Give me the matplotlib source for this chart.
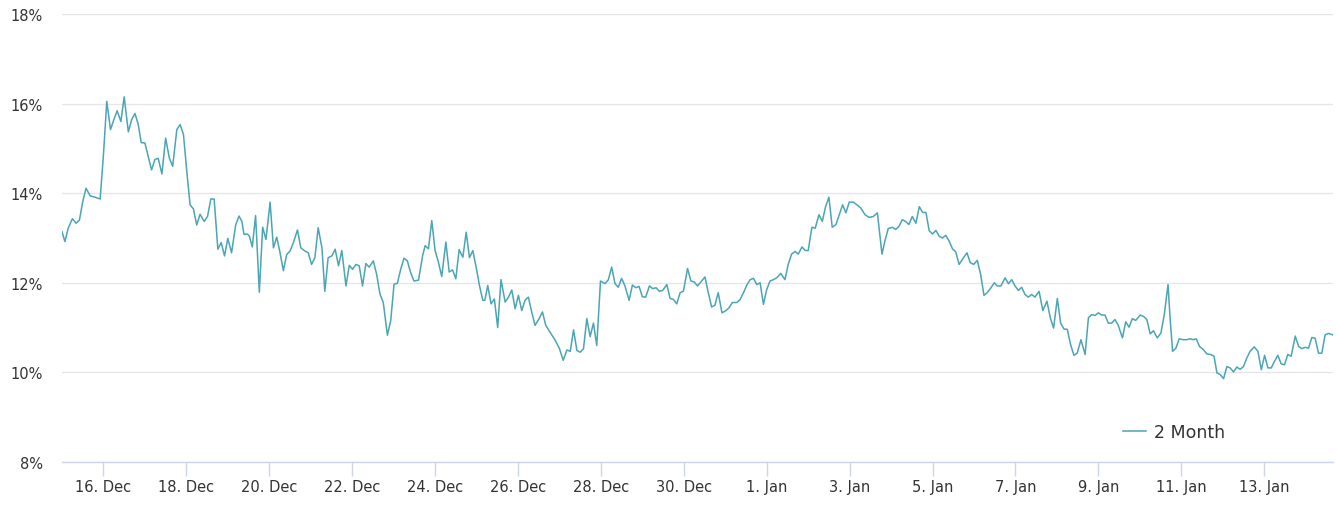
import pandas as pd
import matplotlib
matplotlib.use('Agg')
import matplotlib.pyplot as plt

# Rate series: day offset from 15 Dec 00:00, value in %
days = [
    0.00, 0.07, 0.15, 0.25, 0.34, 0.42, 0.50, 0.58, 0.68, 0.80, 0.92, 1.00, 1.08, 1.17, 1.25, 1.33,
    1.42, 1.50, 1.60, 1.68, 1.76, 1.84, 1.91, 2.00, 2.07, 2.16, 2.24, 2.32, 2.41, 2.50, 2.59, 2.67,
    2.77, 2.85, 2.93, 3.01, 3.09, 3.17, 3.25, 3.33, 3.43, 3.51, 3.59, 3.67, 3.76, 3.84, 3.92, 4.00,
    4.09, 4.19, 4.27, 4.34,
    4.39, 4.47, 4.52, 4.59, 4.67, 4.76, 4.84, 4.92, 5.02, 5.10, 5.18, 5.26, 5.34, 5.42, 5.50, 5.58,
    5.68, 5.76, 5.86, 5.94, 6.02, 6.10, 6.18, 6.27, 6.34, 6.42, 6.51, 6.59, 6.67, 6.75, 6.85, 6.93,
    7.01, 7.09, 7.17, 7.25, 7.33, 7.41, 7.51, 7.59, 7.67, 7.75, 7.85, 7.93, 8.01, 8.09, 8.17, 8.25,
    8.33, 8.41, 8.49, 8.60,
    8.70, 8.76, 8.84, 8.92, 9.00, 9.08, 9.16, 9.26, 9.34, 9.42, 9.50, 9.58, 9.67, 9.75, 9.83, 9.91,
    9.99, 10.07, 10.15, 10.20, 10.27, 10.35, 10.43, 10.51, 10.59, 10.69, 10.77, 10.85, 10.93, 11.01,
    11.09, 11.17, 11.25, 11.33, 11.41, 11.51, 11.59, 11.67, 11.77, 11.89, 12.00, 12.09, 12.18, 12.26,
    12.34, 12.42, 12.50, 12.58, 12.66, 12.74, 12.82, 12.90, 12.99,
    13.10, 13.18, 13.26, 13.34, 13.42, 13.50, 13.58, 13.68, 13.76, 13.84, 13.92, 14.00, 14.08, 14.17,
    14.25, 14.33, 14.41, 14.49, 14.59, 14.67, 14.75, 14.83, 14.91, 14.99, 15.09, 15.17, 15.25, 15.33,
    15.43, 15.51, 15.59, 15.67, 15.75, 15.83, 15.92, 16.00, 16.09, 16.17, 16.28, 16.36, 16.44, 16.52,
    16.60, 16.68, 16.76, 16.84, 16.92, 17.00, 17.08, 17.16, 17.24, 17.34,
    17.44, 17.52, 17.60, 17.68, 17.76, 17.85, 17.93, 18.00, 18.09, 18.17, 18.26, 18.34, 18.42, 18.50,
    18.58, 18.67, 18.75, 18.83, 18.91, 18.99, 19.09, 19.19, 19.27, 19.37, 19.47, 19.57, 19.67, 19.78,
    19.85, 19.93, 20.03, 20.11, 20.19, 20.27, 20.35, 20.43, 20.51, 20.60, 20.68, 20.76, 20.84, 20.92,
    21.00, 21.08, 21.16, 21.24, 21.32, 21.40, 21.48, 21.56, 21.64,
    21.74, 21.83, 21.91, 21.99, 22.08, 22.16, 22.24, 22.32, 22.41, 22.49, 22.56, 22.65, 22.75, 22.83,
    22.91, 22.99, 23.07, 23.15, 23.23, 23.31, 23.39, 23.47, 23.57, 23.66, 23.76, 23.84, 23.92, 24.01,
    24.09, 24.17, 24.25, 24.33, 24.41, 24.49, 24.58, 24.68, 24.76, 24.84, 24.92, 25.00, 25.08, 25.16,
    25.24, 25.32, 25.40, 25.48, 25.58, 25.66, 25.74, 25.82, 25.90, 26.01,
    26.09, 26.17, 26.25, 26.33, 26.42, 26.51, 26.59, 26.68, 26.73, 26.79, 26.87, 26.95, 27.05, 27.13,
    27.21, 27.29, 27.36, 27.44, 27.53, 27.62, 27.71, 27.79, 27.86, 27.94, 28.02, 28.10, 28.18, 28.26,
    28.34, 28.42, 28.50, 28.58, 28.66, 28.76, 28.85, 28.93, 29.01, 29.09, 29.17, 29.25, 29.33, 29.41,
    29.49, 29.57, 29.65, 29.75, 29.83, 29.91, 29.99, 30.07, 30.15, 30.23, 30.31, 30.39, 30.47, 30.55,
    30.65,
]

rate = [
    13.14, 12.92, 13.22, 13.43, 13.33, 13.40, 13.81, 14.11, 13.94, 13.91, 13.87, 14.86, 16.05, 15.42, 15.64, 15.84,
    15.60, 16.15, 15.37, 15.64, 15.78, 15.53, 15.13, 15.12, 14.86, 14.52, 14.75, 14.78, 14.43, 15.23, 14.78, 14.60,
    15.42, 15.53, 15.31, 14.49, 13.74, 13.65, 13.29, 13.53, 13.37, 13.48, 13.87, 13.87, 12.75, 12.90, 12.60, 12.99,
    12.67, 13.29, 13.49, 13.37,
    13.08, 13.09, 13.04, 12.80, 13.50, 11.79, 13.24, 12.97, 13.80, 12.78, 13.02, 12.67, 12.27, 12.63, 12.71, 12.89,
    13.18, 12.78, 12.71, 12.67, 12.41, 12.56, 13.23, 12.78, 11.81, 12.56, 12.60, 12.75, 12.38, 12.72, 11.93, 12.39,
    12.30, 12.41, 12.38, 11.93, 12.43, 12.35, 12.49, 12.19, 11.75, 11.56, 10.83, 11.16, 11.97, 11.99, 12.30, 12.55,
    12.49, 12.23, 12.04, 12.06,
    12.61, 12.83, 12.76, 13.39, 12.72, 12.46, 12.14, 12.91, 12.24, 12.29, 12.09, 12.74, 12.57, 13.13, 12.56, 12.72,
    12.35, 11.94, 11.61, 11.61, 11.94, 11.53, 11.64, 11.00, 12.07, 11.57, 11.68, 11.84, 11.42, 11.72,
    11.38, 11.61, 11.68, 11.35, 11.05, 11.20, 11.35, 11.05, 10.90, 10.73, 10.53, 10.27, 10.50, 10.47,
    10.95, 10.49, 10.45, 10.53, 11.20, 10.80, 11.10, 10.60, 12.04,
    11.98, 12.07, 12.35, 11.98, 11.90, 12.10, 11.93, 11.61, 11.95, 11.89, 11.92, 11.69, 11.68, 11.93,
    11.87, 11.89, 11.81, 11.83, 11.96, 11.65, 11.63, 11.53, 11.78, 11.81, 12.32, 12.04, 12.02, 11.93,
    12.04, 12.13, 11.78, 11.46, 11.50, 11.78, 11.33, 11.37, 11.44, 11.56, 11.56, 11.63, 11.78, 11.95,
    12.07, 12.10, 11.96, 12.00, 11.52, 11.85, 12.04, 12.07, 12.11, 12.21,
    12.07, 12.42, 12.64, 12.70, 12.64, 12.80, 12.72, 12.72, 13.24, 13.22, 13.52, 13.37, 13.70, 13.91,
    13.24, 13.30, 13.52, 13.74, 13.56, 13.80, 13.80, 13.73, 13.67, 13.52, 13.46, 13.48, 13.56, 12.64,
    12.93, 13.21, 13.24, 13.19, 13.26, 13.41, 13.37, 13.30, 13.48, 13.33, 13.70, 13.57, 13.57, 13.16,
    13.09, 13.17, 13.04, 13.00, 13.06, 12.93, 12.76, 12.69, 12.41,
    12.55, 12.67, 12.45, 12.41, 12.50, 12.19, 11.72, 11.78, 11.89, 12.00, 11.93, 11.93, 12.11, 11.98,
    12.07, 11.93, 11.83, 11.90, 11.74, 11.68, 11.74, 11.68, 11.81, 11.38, 11.59, 11.22, 10.99, 11.65,
    11.10, 10.97, 10.96, 10.62, 10.38, 10.43, 10.73, 10.40, 11.22, 11.29, 11.27, 11.33, 11.28, 11.28,
    11.10, 11.10, 11.18, 11.05, 10.77, 11.13, 11.01, 11.20, 11.16, 11.28,
    11.25, 11.18, 10.86, 10.93, 10.77, 10.88, 11.29, 11.96, 11.22, 10.47, 10.54, 10.75, 10.73, 10.73,
    10.75, 10.73, 10.75, 10.58, 10.51, 10.41, 10.40, 10.36, 9.99, 9.95, 9.86, 10.13, 10.10, 10.01,
    10.12, 10.07, 10.13, 10.32, 10.47, 10.57, 10.47, 10.06, 10.38, 10.10, 10.10, 10.25, 10.38, 10.19,
    10.17, 10.40, 10.36, 10.81, 10.58, 10.53, 10.56, 10.54, 10.78, 10.76, 10.43, 10.43, 10.84, 10.87,
    10.84,
]

start = pd.Timestamp('2019-12-15')
end_day = 30.66
y_ticks = [8, 10, 12, 14, 16, 18]
series_name = '2 Month'

times = start + pd.to_timedelta(days, unit='D')
x_ticks = pd.date_range('2019-12-16', '2020-01-13', freq='2D')
x_labels = [f"{t.day}. {t:%b}" for t in x_ticks]

fig = plt.figure(figsize=(13.4, 5.06), dpi=100)
ax = fig.add_axes([62 / 1340, 1 - 463 / 506, 1271 / 1340, 448 / 506])

ax.plot(times, rate, color='#4aa5b5', lw=1.1, label=series_name)

ax.set_xlim(start, start + pd.Timedelta(days=end_day))
ax.set_ylim(8, 18)
ax.set_yticks(y_ticks)
ax.set_yticklabels([f"{v}%" for v in y_ticks])
ax.set_xticks(x_ticks)
ax.set_xticklabels(x_labels)

ax.grid(axis='y', color='#e6e6e6', lw=1)
ax.set_axisbelow(True)
for side in ['top', 'right', 'left']:
    ax.spines[side].set_visible(False)
ax.spines['bottom'].set_color('#ccd6eb')
ax.spines['bottom'].set_linewidth(1)

ax.tick_params(axis='y', length=0, pad=14, labelsize=10.5, labelcolor='#333333')
ax.tick_params(axis='x', length=10, width=1, color='#ccd6eb', pad=2,
               labelsize=10.5, labelcolor='#333333')

ax.legend(loc='center', bbox_to_anchor=(0.875, 0.067), frameon=False,
          fontsize=12.5, handlelength=1.3, handletextpad=0.45, labelcolor='#333333')

fig.savefig('out.png', dpi=100)
